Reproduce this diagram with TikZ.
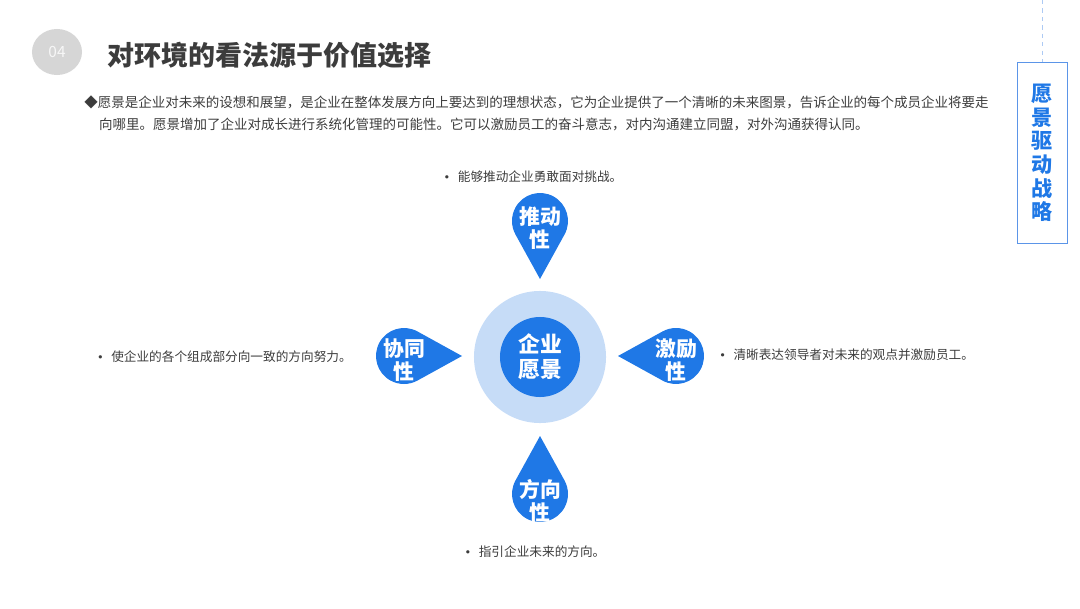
\documentclass[tikz,border=0pt]{standalone}
\usepackage{fontspec}
\setmainfont{Noto Sans CJK SC}
\newfontfamily\dotfont{DejaVu Sans}
\usepackage{tikz}
\usetikzlibrary{
  arrows.meta,
  shapes.geometric,
  positioning,
  calc
}
\definecolor{visBlue}{HTML}{1F78E6}
\definecolor{visLight}{HTML}{C6DCF7}
\definecolor{visText}{HTML}{3C3C3C}
\definecolor{visFrame}{HTML}{5B95E8}
\definecolor{visBadge}{HTML}{D6D6D6}
\tikzset{
  headline/.style={font=\fontsize{19.2}{23}\selectfont\bfseries, text=visText, inner sep=0pt},
  badge/.style={ellipse, fill=visBadge, minimum width=12.5mm, minimum height=11.5mm,
    text=white!80!visBadge, font=\fontsize{11}{13}\selectfont},
  para/.style={font=\fontsize{9.6}{15}\selectfont, text=visText, align=left, inner sep=0pt},
  sidebox/.style={draw=visFrame, line width=0.7pt, minimum width=12.5mm, minimum height=45mm,
    align=center, text=visBlue, font=\fontsize{15}{16.8}\selectfont\bfseries},
  dashline/.style={visFrame!50, dashed, line width=0.5pt},
  ring/.style={circle, fill=visLight, minimum size=33mm},
  core/.style={circle, fill=visBlue, minimum size=20mm, text=white, align=center,
    font=\fontsize{15.5}{17.5}\selectfont\bfseries, inner sep=0pt},
  droplabel/.style={text=white, align=center, font=\fontsize{14.8}{16.6}\selectfont\bfseries, inner sep=0pt},
  note/.style={font=\fontsize{9}{11}\selectfont, text=visText, inner sep=0pt}
}
\newcommand{\visdrop}[2]{%
  \fill[visBlue] ($(#1)+(#2:58)$) -- ($(#1)+(#2+61:28)$)
    arc[start angle=#2+61, end angle=#2+299, radius=28] -- cycle;}
\newcommand{\dotmark}{{\dotfont\fontsize{8}{10}\selectfont•}\hspace{0.6em}}

\begin{document}
\begin{tikzpicture}[x=0.025cm, y=0.025cm]
  \useasboundingbox (0,0) rectangle (1080,608);
  \node[badge] (num) at (57,556) {04};
  \node[headline, anchor=west] (title) at (107,553) {对环境的看法源于价值选择};
  \node[para, anchor=north west] (intro) at (84,512)
    {◆愿景是企业对未来的设想和展望，是企业在整体发展方向上要达到的理想状态，它为企业提供了一个清晰的未来图景，告诉企业的每个成员企业将要走\\
     \hspace*{1.1em}向哪里。愿景增加了企业对成长进行系统化管理的可能性。它可以激励员工的奋斗意志，对内沟通建立同盟，对外沟通获得认同。};

  \coordinate (rail) at (1042,608);
  \node[sidebox] (tag) at (1042,455) {愿\\景\\驱\\动\\战\\略};
  \draw[dashline] (rail) -- (tag.north);

  \node[ring] (ring) at (540,251) {};
  \node[core] (vision) at (ring) {企业\\愿景};

  \coordinate (pushc) at (540,387);
  \coordinate (syncc) at (404,252);
  \coordinate (incc) at (676,252);
  \coordinate (dirc) at (540,114);
  \visdrop{pushc}{-90}
  \visdrop{syncc}{0}
  \visdrop{incc}{180}
  \visdrop{dirc}{90}

  \node[droplabel] (push) at ($(pushc)+(0,-7)$) {推动\\性};
  \node[droplabel] (sync) at ($(syncc)+(0,-4)$) {协同\\性};
  \node[droplabel] (inc) at ($(incc)+(0,-4)$) {激励\\性};
  \node[droplabel] (dir) at ($(dirc)+(0,-7)$) {方向\\性};

  \node[note] (pushnote) at (533,431) {\dotmark 能够推动企业勇敢面对挑战。};
  \node[note, anchor=east] (syncnote) at (352,251) {\dotmark 使企业的各个组成部分向一致的方向努力。};
  \node[note, anchor=west] (incnote) at (719,253) {\dotmark 清晰表达领导者对未来的观点并激励员工。};
  \node[note] (dirnote) at (535,56) {\dotmark 指引企业未来的方向。};
\end{tikzpicture}
\end{document}
